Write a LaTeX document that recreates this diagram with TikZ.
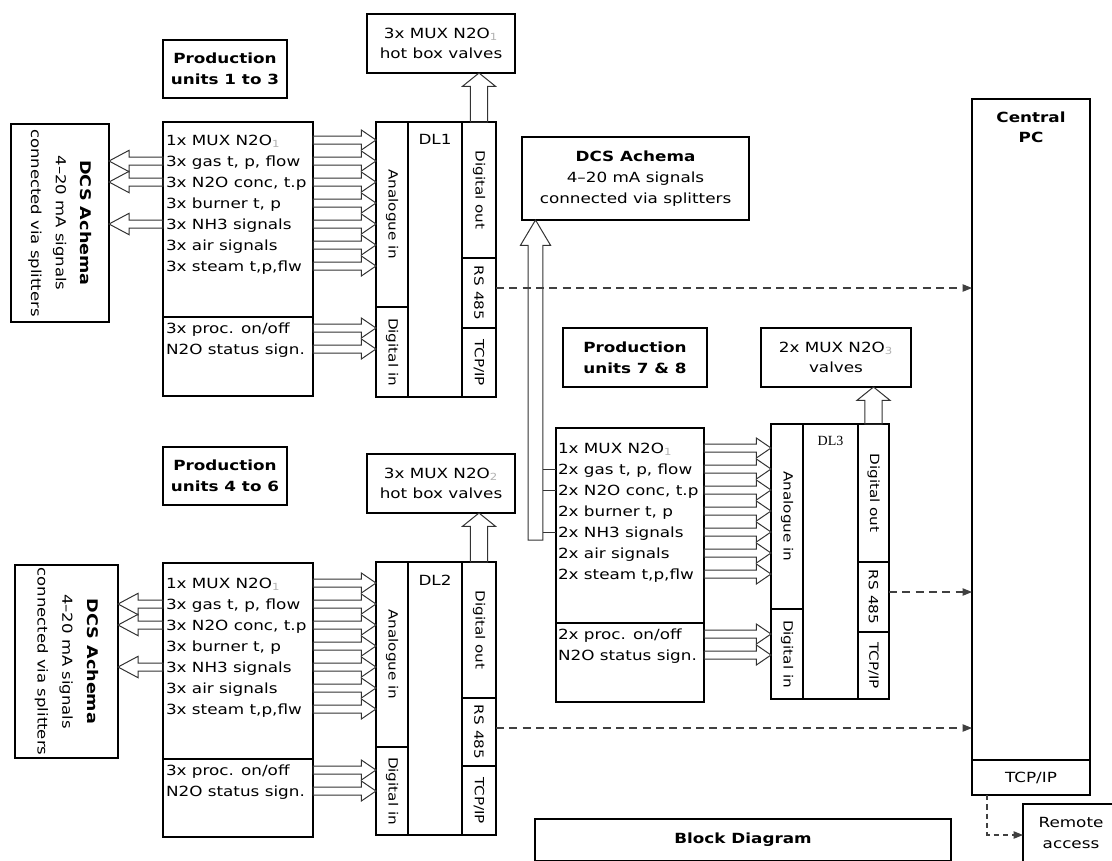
\documentclass[tikz,border=0pt]{standalone}
\usepackage{fontspec}
\setmainfont[FakeStretch=1.2]{DejaVu Sans}
\newfontfamily\dlfont{Liberation Serif}
\usepackage{xcolor}
\usepackage{tikz}
\usetikzlibrary{positioning, calc, arrows.meta}

\newcommand\txtsz{\fontsize{10.5}{15.5}\selectfont}
\newcommand\dcssz{\fontsize{10.3}{18.5}\selectfont}
\newcommand\vsz{\fontsize{9.5}{12}\selectfont}
\newcommand\faintsub[1]{\textsubscript{\textcolor{black!30}{#1}}}

\begin{document}
\begin{tikzpicture}[
  x=0.75pt, y=-0.75pt,
  font=\txtsz,
  every node/.style={inner sep=0pt, outer sep=0pt},
  blk/.style 2 args={draw, line width=0.8pt, anchor=north west, align=center,
                     minimum width=#1*0.75pt, minimum height=#2*0.75pt},
  rowtxt/.style={anchor=west, text height=7.5pt, text depth=0pt},
  vlab/.style={label={[rotate=-90, font=\vsz]center:#1}},
  hollow/.style n args={3}{line width=0.75pt, draw=black!80, to path={
      ($(\tikztotarget)!#3!(\tikztostart)$) coordinate (hb)
      ($(\tikztostart)!#1!90:(\tikztotarget)$)
      -- ($(hb)!#1!-90:(\tikztostart)$)
      -- ($(hb)!#2!-90:(\tikztostart)$)
      -- (\tikztotarget)
      -- ($(hb)!#2!90:(\tikztostart)$)
      -- ($(hb)!#1!90:(\tikztostart)$)
      -- ($(\tikztostart)!#1!-90:(\tikztotarget)$) -- cycle}},
  harrow/.style={hollow={3pt}{7.5pt}{11pt}},
  larrow/.style={hollow={3pt}{8pt}{15pt}},
  uparrow/.style={hollow={6.4pt}{12.4pt}{10pt}},
  bigarrow/.style={hollow={5.6pt}{11.3pt}{19pt}},
  dasharrow/.style={dash pattern=on 6pt off 4pt, draw=black!75, line width=0.8pt,
                    -{Triangle[length=7pt,width=5.5pt]}}
]
\useasboundingbox (0,0) rectangle (1112,860);
\clip (0,0) rectangle (1112,860);

% production units 1 to 3
\node[blk={124}{58}, font=\txtsz\bfseries] (pu1) at (163,40) {Production\\units 1 to 3};
\node[blk={148}{59}] (vlv1) at (367,14) {3x MUX N2O\faintsub{1}\\hot box valves};
\node[blk={98}{198}, label={[rotate=-90, align=center, font=\dcssz]center:{\fontsize{11}{18.5}\selectfont\bfseries DCS Achema}\\4--20 mA signals\\connected via splitters}] (dcs1) at (11,124) {};
\node[blk={150}{195}] (sig1) at (163,122) {};
\node[blk={150}{79}] (sig1b) at (163,317) {};
\foreach \t [count=\i] in {{1x MUX N2O\faintsub{1}}, {3x gas t, p, flow}, {3x N2O conc, t.p},
    {3x burner t, p}, {3x NH3 signals}, {3x air signals}, {3x steam t,p,flw}}
  \node[rowtxt] (s1r\i) at (166,{140+21*(\i-1)}) {\t};
\node[rowtxt] (s1d1) at (166,328) {3x proc. on/off};
\node[rowtxt] (s1d2) at (166,349) {N2O status sign.};

\node[blk={32}{185}, vlab={Analogue in}] (ain1) at (376,122) {};
\node[blk={32}{90}, vlab={Digital in}] (din1) at (376,307) {};
\node[blk={54}{275}] (dl1) at (408,122) {};
\node[anchor=north] (dl1t) at ([yshift=-9.5pt]dl1.north) {DL1};
\node[blk={34}{136}, vlab={Digital out}] (dout1) at (462,122) {};
\node[blk={34}{70}, vlab={RS 485}] (rs1) at (462,258) {};
\node[blk={34}{69}, vlab={TCP/IP}] (tcp1) at (462,328) {};
\draw[line width=1.5pt] (dout1.north east) -- (tcp1.south east);

% production units 4 to 6
\node[blk={124}{58}, font=\txtsz\bfseries] (pu2) at (163,447) {Production\\units 4 to 6};
\node[blk={148}{59}] (vlv2) at (367,454) {3x MUX N2O\faintsub{2}\\hot box valves};
\node[blk={103}{193}, label={[rotate=-90, align=center, font=\dcssz]center:{\fontsize{11}{18.5}\selectfont\bfseries DCS Achema}\\4--20 mA signals\\connected via splitters}] (dcs2) at (15,565) {};
\node[blk={150}{196}] (sig2) at (163,563) {};
\node[blk={150}{78}] (sig2b) at (163,759) {};
\foreach \t [count=\i] in {{1x MUX N2O\faintsub{1}}, {3x gas t, p, flow}, {3x N2O conc, t.p},
    {3x burner t, p}, {3x NH3 signals}, {3x air signals}, {3x steam t,p,flw}}
  \node[rowtxt] (s2r\i) at (166,{583+21*(\i-1)}) {\t};
\node[rowtxt] (s2d1) at (166,770) {3x proc. on/off};
\node[rowtxt] (s2d2) at (166,791) {N2O status sign.};

\node[blk={32}{185}, vlab={Analogue in}] (ain2) at (376,562) {};
\node[blk={32}{88}, vlab={Digital in}] (din2) at (376,747) {};
\node[blk={54}{273}] (dl2) at (408,562) {};
\node[anchor=north] (dl2t) at ([yshift=-9.5pt]dl2.north) {DL2};
\node[blk={34}{136}, vlab={Digital out}] (dout2) at (462,562) {};
\node[blk={34}{68}, vlab={RS 485}] (rs2) at (462,698) {};
\node[blk={34}{69}, vlab={TCP/IP}] (tcp2) at (462,766) {};
\draw[line width=1.5pt] (dout2.north east) -- (tcp2.south east);

% production units 7 & 8
\node[blk={227}{83}] (dcsm) at (522,137) {{\bfseries DCS Achema}\\4--20 mA signals\\connected via splitters};
\node[blk={144}{59}, font=\txtsz\bfseries] (pu3) at (563,328) {Production\\units 7 \& 8};
\node[blk={150}{59}] (vlv3) at (761,328) {2x MUX N2O\faintsub{3}\\valves};
\node[blk={148}{195}] (sig3) at (556,428) {};
\node[blk={148}{79}] (sig3b) at (556,623) {};
\foreach \t [count=\i] in {{1x MUX N2O\faintsub{1}}, {2x gas t, p, flow}, {2x N2O conc, t.p},
    {2x burner t, p}, {2x NH3 signals}, {2x air signals}, {2x steam t,p,flw}}
  \node[rowtxt] (s3r\i) at (558,{448+21*(\i-1)}) {\t};
\node[rowtxt] (s3d1) at (558,634) {2x proc. on/off};
\node[rowtxt] (s3d2) at (558,655) {N2O status sign.};

\node[blk={32}{185}, vlab={Analogue in}] (ain3) at (771,424) {};
\node[blk={32}{90}, vlab={Digital in}] (din3) at (771,609) {};
\node[blk={55}{275}] (dl3) at (803,424) {};
\node[anchor=north, font=\txtsz\dlfont] (dl3t) at ([yshift=-9.5pt]dl3.north) {DL3};
\node[blk={31}{138}, vlab={Digital out}] (dout3) at (858,424) {};
\node[blk={31}{70}, vlab={RS 485}] (rs3) at (858,562) {};
\node[blk={31}{67}, vlab={TCP/IP}] (tcp3) at (858,632) {};

% central PC
\node[blk={118}{661}] (pc) at (972,99) {};
\node[anchor=north, align=center, font=\fontsize{10.5}{15}\selectfont\bfseries] (pct) at ([yshift=-9.5pt]pc.north) {Central\\PC};
\node[blk={118}{35}] (pctcp) at (972,760) {TCP/IP};
\node[blk={96}{58}] (remote) at (1023,804) {Remote\\access};
\node[blk={416}{42}, font=\txtsz\bfseries] (blkd) at (535,819) {Block Diagram};

% hollow signal arrows
\foreach \i in {2,3,5} {
  \draw[larrow] (sig1.west |- s1r\i) to (dcs1.east |- s1r\i);
  \draw[larrow] (sig2.west |- s2r\i) to (dcs2.east |- s2r\i);
}
\foreach \i in {1,...,7} {
  \draw[harrow] (sig1.east |- s1r\i) to (ain1.west |- s1r\i);
  \draw[harrow] (sig2.east |- s2r\i) to (ain2.west |- s2r\i);
  \draw[harrow] (sig3.east |- s3r\i) to (ain3.west |- s3r\i);
}
\foreach \i in {1,2} {
  \draw[harrow] (sig1b.east |- s1d\i) to (din1.west |- s1d\i);
  \draw[harrow] (sig2b.east |- s2d\i) to (din2.west |- s2d\i);
  \draw[harrow] (sig3b.east |- s3d\i) to (din3.west |- s3d\i);
}
\draw[uparrow] (dout1.north) to (vlv1.south -| dout1.north);
\draw[uparrow] (dout2.north) to (vlv2.south -| dout2.north);
\draw[uparrow] (dout3.north) to (vlv3.south -| dout3.north);

% splitter feed to DCS
\coordinate (lbase) at (535.5,540);
\coordinate (lside) at (543,540);
\draw[bigarrow] (lbase) to (dcsm.south -| lbase);
\foreach \i in {2,3,5}
  \draw[line width=0.75pt, draw=black!80] (lside |- s3r\i) -- (sig3.west |- s3r\i);

% RS 485 links
\coordinate (rs1o) at ([yshift=3.75pt]rs1.east);
\coordinate (rs2o) at ([yshift=3pt]rs2.east);
\coordinate (rs3o) at ([yshift=3.75pt]rs3.east);
\draw[dasharrow] (rs1o) -- (pc.west |- rs1o);
\draw[dasharrow] (rs2o) -- (pc.west |- rs2o);
\draw[dasharrow] (rs3o) -- (pc.west |- rs3o);
\coordinate (rbend) at (987,835);
\draw[dasharrow, dash pattern=on 4pt off 3pt] (pctcp.south -| rbend) -- (rbend) -- (rbend -| remote.west);

\end{tikzpicture}
\end{document}
